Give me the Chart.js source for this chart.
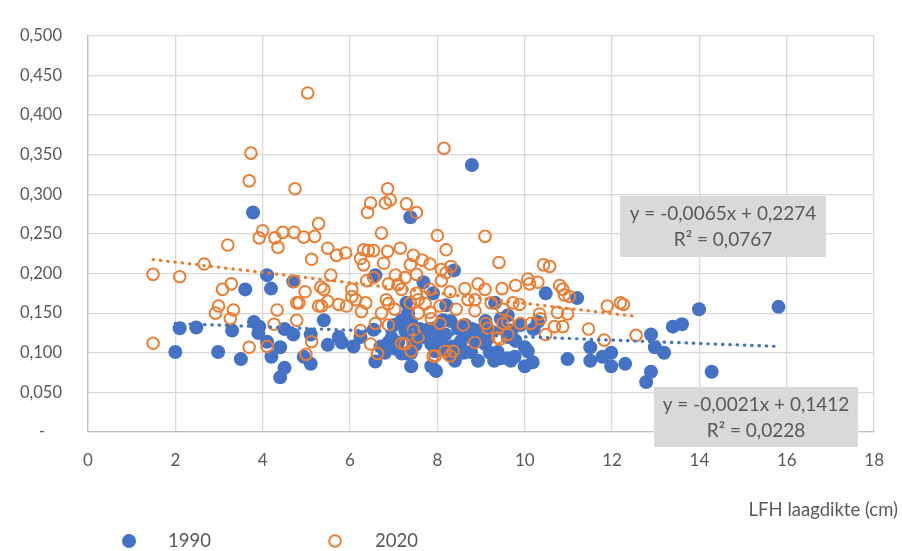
<!DOCTYPE html>
<html>
<head>
<meta charset="utf-8">
<script src="https://cdn.jsdelivr.net/npm/chart.js@4/dist/chart.umd.min.js"></script>
<style>
html, body { margin: 0; padding: 0; background: #fff; }
#wrap { width: 902px; height: 551px; }
</style>
</head>
<body>
<div id="wrap"><canvas id="lfhChart" width="902" height="551"></canvas></div>
<script>
// 1990 - LFH laagdikte (cm) en waarde
const x1990 = [2.0, 2.1, 2.48, 2.98, 3.3, 3.5, 3.6, 3.78, 3.8, 3.9, 3.92, 4.1, 4.1, 4.19, 4.2, 4.4, 4.4, 4.5, 4.5, 4.7,
  4.7, 4.94, 5.1, 5.1, 5.4, 5.49, 5.74, 5.81, 6.08, 6.24, 6.58, 6.58, 6.54, 6.88, 6.95, 7.1, 7.27, 7.29, 7.29, 7.38,
  7.18, 7.4, 7.27, 7.33, 7.4, 7.18, 7.4, 7.68, 7.9, 7.86, 7.95, 7.95, 7.86, 7.97, 8.09, 8.13, 8.18, 8.25, 8.38, 8.4,
  8.47, 8.54, 8.63, 8.7, 8.77, 8.79, 8.86, 8.93, 9.0, 9.09, 9.23, 9.3, 9.32, 9.38, 9.45, 9.45, 9.61, 9.61, 9.61, 9.68,
  9.77, 9.79, 9.9, 10.0, 10.0, 10.07, 10.18, 10.3, 10.48, 10.98, 11.2, 11.5, 11.5, 11.78, 11.98, 11.98, 12.3, 12.78, 12.89, 12.89,
  12.98, 13.19, 13.39, 13.6, 13.99, 14.28, 15.81, 7.5, 7.6, 8.3, 8.6, 9.1, 6.8, 7.0, 7.5, 8.8, 9.2, 9.5, 10.2, 8.2, 7.8,
  7.05, 7.7, 8.0, 8.55, 9.15, 9.7, 7.45, 8.35, 8.95, 6.7];
const y1990 = [0.101, 0.131, 0.132, 0.101, 0.128, 0.092, 0.180, 0.277, 0.139, 0.125, 0.133, 0.198, 0.114, 0.181, 0.095, 0.107, 0.069, 0.081, 0.130, 0.123,
  0.190, 0.095, 0.086, 0.123, 0.141, 0.110, 0.120, 0.113, 0.108, 0.120, 0.198, 0.089, 0.129, 0.113, 0.119, 0.113, 0.131, 0.099, 0.163, 0.271,
  0.141, 0.139, 0.127, 0.150, 0.083, 0.099, 0.100, 0.189, 0.175, 0.111, 0.131, 0.102, 0.083, 0.077, 0.111, 0.141, 0.123, 0.099, 0.204, 0.090,
  0.131, 0.115, 0.135, 0.125, 0.101, 0.337, 0.115, 0.090, 0.120, 0.111, 0.127, 0.090, 0.163, 0.101, 0.143, 0.093, 0.120, 0.147, 0.093, 0.090,
  0.095, 0.115, 0.135, 0.107, 0.083, 0.102, 0.088, 0.139, 0.175, 0.092, 0.169, 0.107, 0.090, 0.095, 0.100, 0.083, 0.086, 0.063, 0.076, 0.123,
  0.107, 0.100, 0.133, 0.136, 0.155, 0.076, 0.158, 0.120, 0.130, 0.140, 0.100, 0.140, 0.100, 0.135, 0.110, 0.130, 0.100, 0.130, 0.130, 0.160, 0.130,
  0.105, 0.120, 0.125, 0.105, 0.118, 0.128, 0.115, 0.108, 0.128, 0.108];

// 2020
const x2020 = [1.49, 1.49, 2.1, 2.66, 3.2, 3.69, 3.73, 4.74, 5.03, 4.0, 3.92, 4.28, 4.35, 4.46, 4.72, 3.28, 3.08, 2.99, 2.92, 3.33,
  3.26, 3.69, 4.1, 4.26, 4.33, 4.78, 4.78, 4.72, 5.28, 6.47, 6.4, 8.15, 6.86, 6.92, 6.81, 7.29, 7.52, 6.72, 8.0, 9.09,
  4.94, 5.19, 5.49, 5.69, 5.9, 5.12, 6.31, 6.42, 6.54, 6.24, 6.31, 6.86, 6.77, 7.15, 5.56, 5.33, 5.4, 4.97, 4.83, 5.49,
  5.35, 5.28, 5.74, 5.92, 6.04, 6.04, 6.13, 6.36, 6.26, 6.38, 6.54, 6.88, 7.04, 7.1, 6.83, 6.88, 7.02, 6.72, 5.12, 4.99,
  6.24, 6.47, 6.63, 6.58, 6.88, 7.18, 8.2, 7.45, 7.65, 7.83, 7.38, 8.09, 8.31, 8.2, 7.52, 7.26, 8.09, 8.93, 8.63, 9.09,
  8.29, 7.18, 7.52, 7.83, 7.56, 8.7, 8.86, 9.23, 7.72, 7.38, 8.06, 8.43, 8.86, 7.83, 7.56, 7.86, 8.06, 8.59, 9.11, 9.16,
  7.45, 7.56, 7.26, 7.4, 8.86, 7.9, 8.18, 8.29, 8.36, 9.41, 10.43, 10.57, 10.07, 10.11, 10.3, 9.79, 9.48, 10.8, 10.87, 10.91,
  11.02, 9.73, 9.88, 9.5, 10.34, 10.75, 10.98, 9.5, 9.9, 10.14, 10.36, 10.68, 10.87, 10.48, 9.61, 9.38, 11.46, 11.89, 12.19, 12.26,
  11.82, 12.55, 9.43, 7.95, 9.61];
const y2020 = [0.199, 0.112, 0.196, 0.212, 0.236, 0.317, 0.352, 0.307, 0.428, 0.254, 0.245, 0.245, 0.233, 0.252, 0.252, 0.187, 0.180, 0.159, 0.150, 0.154,
  0.143, 0.107, 0.108, 0.136, 0.154, 0.163, 0.141, 0.190, 0.263, 0.289, 0.277, 0.358, 0.307, 0.293, 0.289, 0.288, 0.277, 0.251, 0.248, 0.247,
  0.246, 0.247, 0.232, 0.223, 0.226, 0.218, 0.230, 0.229, 0.229, 0.219, 0.211, 0.228, 0.213, 0.232, 0.198, 0.183, 0.180, 0.177, 0.163, 0.165,
  0.159, 0.159, 0.161, 0.159, 0.180, 0.171, 0.167, 0.163, 0.152, 0.191, 0.195, 0.187, 0.198, 0.186, 0.167, 0.162, 0.155, 0.150, 0.114, 0.098,
  0.128, 0.111, 0.099, 0.137, 0.135, 0.112, 0.230, 0.223, 0.217, 0.212, 0.211, 0.205, 0.209, 0.201, 0.199, 0.195, 0.191, 0.187, 0.181, 0.180,
  0.177, 0.180, 0.175, 0.180, 0.167, 0.167, 0.167, 0.163, 0.162, 0.163, 0.159, 0.155, 0.153, 0.151, 0.150, 0.143, 0.137, 0.135, 0.137, 0.131,
  0.129, 0.120, 0.111, 0.102, 0.113, 0.096, 0.102, 0.096, 0.102, 0.214, 0.211, 0.209, 0.193, 0.187, 0.189, 0.185, 0.181, 0.185, 0.180, 0.173,
  0.171, 0.163, 0.161, 0.155, 0.149, 0.151, 0.149, 0.137, 0.137, 0.137, 0.143, 0.133, 0.133, 0.123, 0.123, 0.119, 0.130, 0.159, 0.163, 0.161,
  0.116, 0.122, 0.117, 0.096, 0.139];

// trendlijnen (zoals in de grafiek vermeld)
const trend1990 = { slope: -0.0021, intercept: 0.1412, r2: 0.0228 };
const trend2020 = { slope: -0.0065, intercept: 0.2274, r2: 0.0767 };

const xTicks = [0, 2, 4, 6, 8, 10, 12, 14, 16, 18];
const yTicks = [0, 0.05, 0.1, 0.15, 0.2, 0.25, 0.3, 0.35, 0.4, 0.45, 0.5];

const BLUE = '#4472C4';
const ORANGE = '#ED7D31';
const TEXT = '#595959';
const FONT = 'Lato, "Open Sans", sans-serif';

function toPoints(xs, ys) {
    return xs.map((x, i) => ({ x: x, y: ys[i] }));
}

function trendPoints(xs, t) {
    const lo = Math.min(...xs), hi = Math.max(...xs);
    return [lo, hi].map(x => ({ x: x, y: t.slope * x + t.intercept }));
}

function fmt(v, d) {
    return v.toFixed(d).replace('.', ',');
}

function eqText(t) {
    return 'y = ' + fmt(t.slope, 4) + 'x + ' + fmt(t.intercept, 4);
}

const extrasPlugin = {
    id: 'extras',
    afterDraw(chart) {
        const ctx = chart.ctx;
        ctx.save();
        ctx.textBaseline = 'middle';

        // label boxes for the trendlines
        const boxes = [
            { t: trend2020, x: 620, y: 196, w: 206, h: 61 },
            { t: trend1990, x: 654, y: 387, w: 204, h: 60 },
        ];
        ctx.font = '19px ' + FONT;
        boxes.forEach(b => {
            ctx.fillStyle = '#d9d9d9';
            ctx.fillRect(b.x, b.y, b.w, b.h);
            ctx.fillStyle = TEXT;
            ctx.textAlign = 'center';
            ctx.fillText(eqText(b.t), b.x + b.w / 2, b.y + 18);
            ctx.fillText('R\u00B2 = ' + fmt(b.t.r2, 4), b.x + b.w / 2, b.y + 44);
        });

        // x-as titel
        ctx.font = '18.5px ' + FONT;
        ctx.textAlign = 'right';
        ctx.fillText('LFH laagdikte (cm)', 898, 510);

        // legenda
        ctx.font = '18.5px ' + FONT;
        ctx.textAlign = 'left';
        ctx.fillStyle = BLUE;
        ctx.beginPath();
        ctx.arc(129, 541, 7, 0, Math.PI * 2);
        ctx.fill();
        ctx.fillStyle = TEXT;
        ctx.fillText('1990', 168, 541);

        ctx.strokeStyle = ORANGE;
        ctx.lineWidth = 2;
        ctx.beginPath();
        ctx.arc(335, 541, 5.8, 0, Math.PI * 2);
        ctx.stroke();
        ctx.fillStyle = TEXT;
        ctx.fillText('2020', 375, 541);
        ctx.restore();
    }
};

const ctx = document.getElementById('lfhChart').getContext('2d');
const lfhChart = new Chart(ctx, {
    type: 'scatter',
    data: {
        datasets: [
            {
                label: '1990',
                data: toPoints(x1990, y1990),
                backgroundColor: BLUE,
                borderColor: BLUE,
                borderWidth: 0,
                pointRadius: 7,
                order: 4,
            },
            {
                label: '2020',
                data: toPoints(x2020, y2020),
                backgroundColor: 'rgba(0,0,0,0)',
                borderColor: ORANGE,
                borderWidth: 2,
                pointRadius: 5.8,
                order: 3,
            },
            {
                type: 'line',
                label: 'trend 1990',
                data: trendPoints(x1990, trend1990),
                borderColor: BLUE,
                borderWidth: 3.2,
                borderDash: [0.5, 6.8],
                borderCapStyle: 'round',
                pointRadius: 0,
                fill: false,
                order: 2,
            },
            {
                type: 'line',
                label: 'trend 2020',
                data: trendPoints(x2020, trend2020),
                borderColor: ORANGE,
                borderWidth: 3.2,
                borderDash: [0.5, 6.8],
                borderCapStyle: 'round',
                pointRadius: 0,
                fill: false,
                order: 1,
            },
        ],
    },
    options: {
        responsive: false,
        animation: false,
        layout: { padding: { top: 17, right: 24, left: 0, bottom: 0 } },
        plugins: {
            legend: { display: false },
            tooltip: { enabled: false },
        },
        scales: {
            x: {
                type: 'linear',
                min: 0,
                max: 18,
                afterFit: s => { s.height = 119; },
                afterBuildTicks: s => { s.ticks = xTicks.map(v => ({ value: v })); },
                grid: { color: '#d9d9d9', lineWidth: 1.3, drawTicks: false },
                border: { color: '#bfbfbf', width: 1.3 },
                ticks: {
                    color: TEXT,
                    padding: 18,
                    font: { family: FONT, size: 17 },
                    callback: v => String(v),
                },
            },
            y: {
                type: 'linear',
                min: 0,
                max: 0.5,
                afterFit: s => { s.width = 88; },
                afterBuildTicks: s => { s.ticks = yTicks.map(v => ({ value: v })); },
                grid: { color: '#d9d9d9', lineWidth: 1.3, drawTicks: false },
                border: { color: '#bfbfbf', width: 1.3 },
                ticks: {
                    color: TEXT,
                    padding: 26,
                    font: { family: FONT, size: 16.5 },
                    callback: v => v === 0 ? '-    ' : fmt(v, 3),
                },
            },
        },
    },
    plugins: [extrasPlugin],
});
</script>
</body>
</html>
